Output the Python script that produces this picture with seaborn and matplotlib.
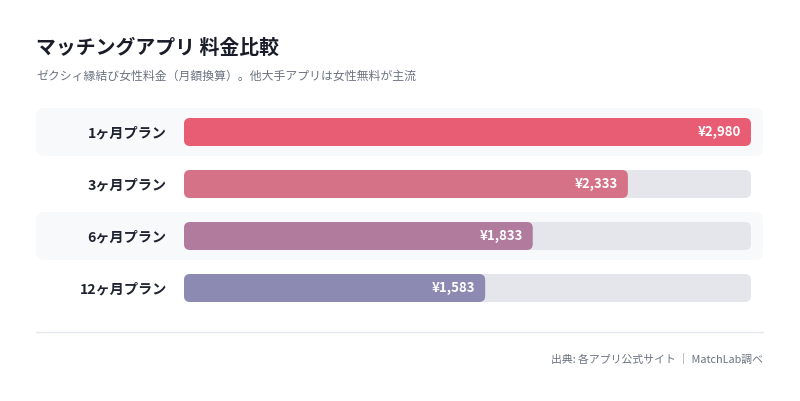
import matplotlib
matplotlib.use("Agg")
import matplotlib.pyplot as plt
from matplotlib.patches import FancyBboxPatch
import seaborn as sns
import pandas as pd

plans = ["1ヶ月プラン", "3ヶ月プラン", "6ヶ月プラン", "12ヶ月プラン"]
prices = [2980, 2333, 1833, 1583]
value_labels = ["¥2,980", "¥2,333", "¥1,833", "¥1,583"]
bar_colors = ["#e85c74", "#d57287", "#b07b9d", "#8c89b3"]
title = "マッチングアプリ 料金比較"
subtitle = "ゼクシィ縁結び女性料金（月額換算）。他大手アプリは女性無料が主流"
footer = "出典: 各アプリ公式サイト ｜ MatchLab調べ"

sns.set_theme(style="white")
plt.rcParams["font.family"] = ["Noto Sans CJK JP", "DejaVu Sans"]

W, H = 800, 401
fig = plt.figure(figsize=(8, 4.01), dpi=100)
fig.patch.set_facecolor("white")

ax_left, ax_right = 184, 751
ax_top, ax_bot = 106, 314
ax = fig.add_axes([ax_left / W, 1 - ax_bot / H, (ax_right - ax_left) / W, (ax_bot - ax_top) / H])
ax.patch.set_alpha(0)

xmax = max(prices)
df = pd.DataFrame({"plan": plans, "price": prices, "track": [xmax] * len(plans)})

bw = 28 / 52
sns.barplot(data=df, x="track", y="plan", orient="h", color="#e5e6eb", width=bw, ax=ax,
            saturation=1)
sns.barplot(data=df, x="price", y="plan", hue="plan", palette=bar_colors, orient="h",
            width=bw, ax=ax, legend=False, saturation=1)

ax.set_xlim(0, xmax)
ax.set_ylim(3.5, -0.5)

xpp = xmax / (ax_right - ax_left)  # data per px (x)
ypp = 1 / 52                          # data per px (y)
aspect = ypp / xpp

# replace bars by rounded ones
patches = list(ax.patches)
for p in patches:
    x0, y0, w, h = p.get_x(), p.get_y(), p.get_width(), p.get_height()
    fc = p.get_facecolor()
    z = p.get_zorder()
    p.remove()
    ax.add_patch(FancyBboxPatch((x0, y0), w, h,
                                boxstyle=f"round,pad=0,rounding_size={6 * xpp}",
                                mutation_aspect=aspect, facecolor=fc, edgecolor="none",
                                zorder=z + 0.5))

# alternating row bands
bx0 = (36 - ax_left) * xpp
bx1 = (763 - ax_left) * xpp
bh = 48 / 52
for i in range(len(plans)):
    if i % 2 == 0:
        ax.add_patch(FancyBboxPatch((bx0, i - bh / 2), bx1 - bx0, bh,
                                    boxstyle=f"round,pad=0,rounding_size={8 * xpp}",
                                    mutation_aspect=aspect, facecolor="#f8f9fb",
                                    edgecolor="none", zorder=0, clip_on=False))

# value labels
for i, (v, lab) in enumerate(zip(prices, value_labels)):
    ax.text(v - 10 * xpp, i, lab, ha="right", va="center", color="white",
            fontsize=9.5, fontweight="bold", zorder=5)

for s in ax.spines.values():
    s.set_visible(False)
ax.set_xticks([])
ax.set_xlabel("")
ax.set_ylabel("")
ax.tick_params(axis="y", left=False, length=0, pad=12.5)
ax.set_yticks(range(len(plans)))
ax.set_yticklabels(plans, fontsize=10.2, fontweight="bold", color="#1f2330")

fig.text(36 / W, 1 - 47 / H, title, fontsize=14.3, fontweight="bold", color="#1a1d29",
         ha="left", va="center")
fig.text(36 / W, 1 - 76 / H, subtitle, fontsize=8.55, color="#6b7280",
         ha="left", va="center")

fig.add_artist(plt.Line2D([36 / W, 763 / W], [1 - 332 / H, 1 - 332 / H],
                          color="#e5e7eb", linewidth=1))
fig.text(763 / W, 1 - 359 / H, footer, fontsize=7.8, color="#6b7280",
         ha="right", va="center")

fig.savefig("out.png", dpi=100, facecolor="white")
